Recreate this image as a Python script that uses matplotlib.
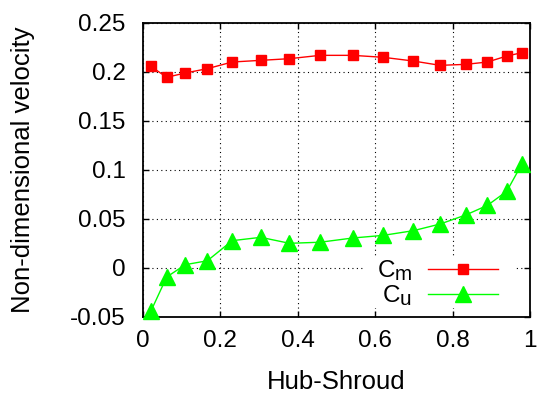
import matplotlib
matplotlib.use("Agg")
import matplotlib.pyplot as plt
from matplotlib import _mathtext
from matplotlib.ticker import FuncFormatter, MultipleLocator
from matplotlib.patches import Rectangle

# gnuplot-like subscripts are only slightly reduced
_mathtext.SHRINK_FACTOR = 0.85

plt.rcParams['font.family'] = ['Liberation Sans', 'DejaVu Sans']
plt.rcParams['mathtext.fontset'] = 'custom'
plt.rcParams['mathtext.rm'] = 'Liberation Sans'
plt.rcParams['mathtext.it'] = 'Liberation Sans'
plt.rcParams['axes.unicode_minus'] = False

# Data
x_pos = [0.021, 0.062, 0.110, 0.167, 0.231, 0.305, 0.379, 0.458,
         0.542, 0.621, 0.699, 0.768, 0.834, 0.890, 0.940, 0.979]
cm = [0.2055, 0.1943, 0.1987, 0.2031, 0.2099, 0.2116, 0.2133, 0.2167,
      0.2167, 0.2147, 0.2109, 0.2065, 0.2075, 0.2099, 0.2160, 0.2194]
cu = [-0.0445, -0.0095, 0.0031, 0.0071, 0.0276, 0.0310, 0.0249, 0.0260,
      0.0303, 0.0330, 0.0378, 0.0446, 0.0538, 0.0636, 0.0780, 0.1058]
labels = [r'$\mathrm{C_m}$', r'$\mathrm{C_u}$']
xlabel = 'Hub-Shroud'
ylabel = 'Non-dimensional velocity'

fig = plt.figure(figsize=(5.37, 3.95), dpi=100)
ax = fig.add_axes([0.2657, 0.1982, 0.7213, 0.7443])

ax.plot(x_pos, cm, color='#ff0000', lw=1.0, marker='s', ms=7.7,
        mec='#ff0000', mfc='#ff0000', label=labels[0], zorder=3, clip_on=False)
ax.plot(x_pos, cu, color='#00ff00', lw=1.0, marker='^', ms=11,
        mec='#00ff00', mfc='#00ff00', label=labels[1], zorder=3, clip_on=False)

ax.set_xlim(0, 1)
ax.set_ylim(-0.05, 0.25)
ax.xaxis.set_major_locator(MultipleLocator(0.2))
ax.yaxis.set_major_locator(MultipleLocator(0.05))
fmt = FuncFormatter(lambda v, p: '%g' % round(v, 6))
ax.xaxis.set_major_formatter(fmt)
ax.yaxis.set_major_formatter(fmt)

ax.set_axisbelow(True)
ax.grid(True, color='black', linestyle=(0, (1, 3)), linewidth=0.8)
ax.tick_params(direction='in', length=4, width=1.0, top=True, right=True,
               labelsize=17.5)
ax.tick_params(axis='x', pad=9.9)
ax.tick_params(axis='y', pad=12.2)
for s in ax.spines.values():
    s.set_linewidth(1.3)

# key area masks the grid (as in the reference)
ax.add_patch(Rectangle((0.574, 0.03), 0.387, 0.173, transform=ax.transAxes,
                       facecolor='white', edgecolor='none', zorder=1))

ax.set_xlabel(xlabel, fontsize=18.5)
ax.set_ylabel(ylabel, fontsize=18.5, va='center')
ax.yaxis.set_label_coords(-0.308, 0.5)
ax.xaxis.set_label_coords(0.5, -0.181)

leg = ax.legend(loc='upper right', bbox_to_anchor=(0.917, 0.198), frameon=False,
                markerfirst=False, fontsize=17.5, handlelength=70/24.3,
                handletextpad=0.65, labelspacing=0.0, borderaxespad=0,
                borderpad=0, numpoints=1)

fig.savefig('out.png', dpi=100)
